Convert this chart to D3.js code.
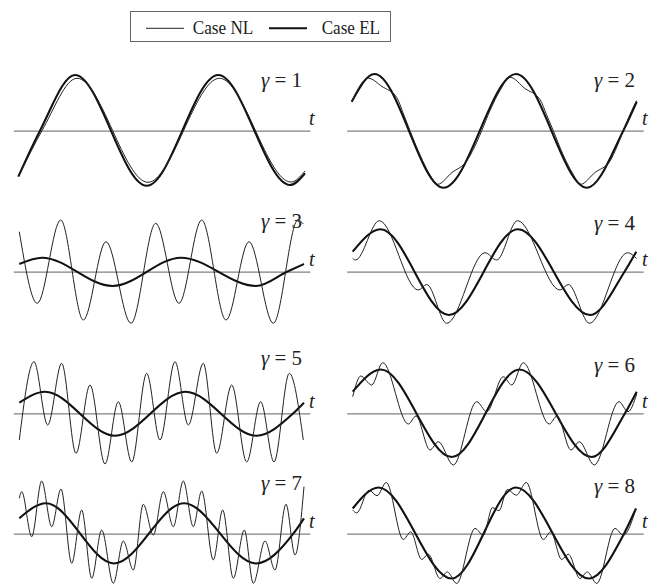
<!DOCTYPE html>
<html><head><meta charset="utf-8">
<script src="https://cdn.jsdelivr.net/npm/d3@7"></script>
<style>body{margin:0;background:#fff}svg{display:block}</style>
</head><body><svg id="c" width="660" height="585"></svg>
<script>
// ---- data (t, u) ----
const gammas = [1,2,3,4,5,6,7,8];
const legendLabels = ["Case NL","Case EL"];
const axisLabel = "t";

const el1 = [[0.22,-0.836],[1.17,0],[2.705,1.013],[5.848,-1.0],[8.987,1.013],[12.13,-0.987],[12.79,-0.775]];
const nl1 = [[0.294,-0.775],[1.258,0],[2.793,0.953],[5.905,-0.938],[9.04,0.953],[12.174,-0.933],[12.79,-0.733]];

const el2 = [[0.219,0.527],[1.219,1.031],[4.244,-1.036],[7.422,1.031],[10.535,-1.036],[12.126,0],[12.714,0.527]];
const nl2 = [[0.219,0.527],[0.947,0.953],[1.548,0.804],[2.192,0.604],[2.49,0.304],[2.775,0],[3.213,-0.442],[3.652,-0.805],[3.981,-0.975],[4.616,-0.76],[5.261,-0.551],[5.581,-0.315],[5.918,0],[6.282,0.367],[6.721,0.731],[7.159,0.971],[7.817,0.767],[8.474,0.567],[8.759,0.295],[9.057,0],[9.483,-0.433],[9.921,-0.787],[10.25,-0.975],[10.885,-0.76],[11.543,-0.551],[11.85,-0.287],[12.126,0],[12.42,0.295],[12.714,0.549]];

const el3 = [[0.263,0.14],[1.258,0.255],[4.349,-0.26],[7.352,0.255],[10.64,-0.26],[11.999,0],[12.744,0.14]];
const nl3 = [[0.263,0.727],[1.052,-0.575],[2.078,0.94],[3.069,-0.878],[4.064,0.545],[5.16,-0.938],[6.243,0.88],[7.264,-0.575],[8.259,0.94],[9.325,-0.878],[10.333,0.545],[11.398,-0.938],[12.481,0.94],[12.714,0.867]];

const el4 = [[0.263,0.364],[1.482,0.771],[4.485,-0.787],[7.51,0.771],[10.666,-0.787],[12.179,0],[12.696,0.364]];
const nl4 = [[0.263,0.244],[0.386,0.213],[1.429,0.927],[3.139,-0.333],[3.507,-0.233],[4.384,-0.938],[6.063,0.345],[6.576,0.213],[7.488,0.927],[9.351,-0.333],[9.715,-0.233],[10.644,-0.938],[12.31,0.345],[12.705,0.24]];

const el5 = [[0.263,0.193],[1.39,0.393],[4.459,-0.407],[7.549,0.393],[10.662,-0.407],[12.275,0],[12.744,0.193]];
const nl5 = [[0.263,-0.485],[0.907,0.938],[1.508,-0.213],[2.122,0.909],[2.749,-0.727],[3.363,0.515],[4.02,-0.922],[4.603,0.211],[5.191,-0.885],[5.848,0.727],[6.431,-0.485],[7.089,0.938],[7.672,-0.213],[8.33,0.909],[8.917,-0.727],[9.575,0.515],[10.232,-0.885],[10.846,0.211],[11.429,-0.885],[12.10,0.727],[12.714,-0.485]];

const el6 = [[0.263,0.393],[1.504,0.796],[4.603,-0.795],[7.576,0.796],[10.741,-0.795],[12.2,0],[12.714,0.393]];
const nl6 = [[0.263,0.302],[0.614,0.678],[1.096,0.515],[1.578,0.92],[2.701,-0.195],[3.038,-0.049],[3.652,-0.667],[4.016,-0.516],[4.673,-0.94],[5.699,0.211],[6.138,0.029],[6.865,0.665],[7.234,0.515],[7.742,0.92],[8.882,-0.195],[9.219,-0.049],[9.833,-0.667],[10.197,-0.516],[10.855,-0.94],[11.938,0.211],[12.332,0.029],[12.714,0.351]];

const el7 = [[0.263,0.28],[1.434,0.553],[4.415,-0.542],[7.484,0.553],[10.64,-0.542],[12.275,0],[12.744,0.28]];
const nl7 = [[0.263,0.644],[0.368,0.764],[0.807,-0.055],[1.245,0.958],[1.683,0.127],[2.091,0.813],[2.56,-0.538],[2.999,0.431],[3.437,-0.811],[3.875,0.067],[4.384,-0.902],[4.822,-0.133],[5.261,-0.66],[5.699,0.535],[6.138,-0.024],[6.576,0.764],[7.014,0.127],[7.453,0.958],[7.891,0.127],[8.259,0.776],[8.768,-0.478],[9.18,0.431],[9.645,-0.811],[10.127,0.067],[10.522,-0.902],[11.035,-0.133],[11.473,-0.66],[11.955,0.535],[12.35,-0.387],[12.744,0.855]];

const el8 = [[0.263,0.458],[1.394,0.84],[4.603,-0.815],[7.422,0.84],[10.622,-0.815],[12.157,0],[12.683,0.458]];
const nl8 = [[0.263,0.427],[0.438,0.378],[0.978,0.791],[1.328,0.691],[1.736,0.931],[2.481,-0.105],[2.806,0.033],[3.288,-0.469],[3.577,-0.373],[4.09,-0.815],[4.41,-0.695],[4.822,-0.905],[5.625,0.095],[5.989,-0.027],[6.392,0.473],[6.677,0.418],[7.041,0.804],[7.435,0.7],[7.874,0.931],[8.619,-0.105],[8.943,0.033],[9.426,-0.469],[9.715,-0.373],[10.228,-0.815],[10.548,-0.695],[10.96,-0.905],[11.762,0.095],[12.126,-0.027],[12.683,0.455]];

const nlSeries = [nl1,nl2,nl3,nl4,nl5,nl6,nl7,nl8];
const elSeries = [el1,el2,el3,el4,el5,el6,el7,el8];

// ---- layout ----
const colX0 = [13.3, 346.7];
const rowAxisY = [130.7, 271.7, 413.3, 533.7];
const pxPerT = 22.81, pxPerU = 55;
const labelDy = [-44, -44, -43.4, -41.7, -48.3, -41.6, -43.7, -40.4];
const labelEndX = [302, 635];
const tLabelX = [309, 642];

const svg = d3.select("#c");
svg.append("rect").attr("width",660).attr("height",585).attr("fill","#fff");
const serif = "'Liberation Serif','Times New Roman',serif";

gammas.forEach((g, i) => {
  const col = i % 2, row = Math.floor(i / 2);
  const x0 = colX0[col], ay = rowAxisY[row];
  const x = d3.scaleLinear().domain([0, 13]).range([x0, x0 + 13 * pxPerT]);
  const y = d3.scaleLinear().domain([-1, 1]).range([ay + pxPerU, ay - pxPerU]);
  const p = svg.append("g");
  const ax = p.append("g").attr("transform", `translate(0,${y(0)})`)
    .call(d3.axisBottom(x).ticks(0).tickSize(0).tickSizeOuter(0));
  ax.select(".domain").attr("stroke", "#808080").attr("stroke-width", 1.3);
  ax.selectAll("text").remove();
  const line = d3.line().x(d => x(d[0])).y(d => y(d[1])).curve(d3.curveMonotoneX);
  p.append("path").datum(elSeries[i]).attr("d", line)
    .attr("fill","none").attr("stroke","#111").attr("stroke-width",2.1);
  p.append("path").datum(nlSeries[i]).attr("d", line)
    .attr("fill","none").attr("stroke","#222").attr("stroke-width",1);
  p.append("text").attr("x", tLabelX[col]).attr("y", ay - 5.5)
    .attr("font-family", serif).attr("font-size", 20).attr("font-style","italic")
    .attr("fill","#222").text(axisLabel);
  const lt = p.append("text").attr("x", labelEndX[col]).attr("y", ay + labelDy[i])
    .attr("text-anchor","end").attr("font-family", serif).attr("font-size", 21).attr("fill","#222");
  lt.append("tspan").attr("font-family", serif).attr("font-style","italic").text("γ");
  lt.append("tspan").attr("font-family", serif).text(" = " + g);
});

// ---- legend ----
const lg = svg.append("g");
lg.append("rect").attr("x",130.5).attr("y",11.5).attr("width",260).attr("height",30)
  .attr("fill","#fff").attr("stroke","#666").attr("stroke-width",1);
const legItems = [
  {lx:146, tx:192.7, tl:60.6, w:1, c:"#222"},
  {lx:269, tx:321.7, tl:58.3, w:2.1, c:"#111"}
];
legItems.forEach((it, k) => {
  lg.append("line").attr("x1",it.lx).attr("x2",it.lx+38).attr("y1",28.3).attr("y2",28.3)
    .attr("stroke",it.c).attr("stroke-width",it.w);
  lg.append("text").attr("x",it.tx).attr("y",34).attr("font-family",serif)
    .attr("font-size",18.5).attr("fill","#222")
    .attr("textLength",it.tl).attr("lengthAdjust","spacingAndGlyphs").text(legendLabels[k]);
});
</script></body></html>
